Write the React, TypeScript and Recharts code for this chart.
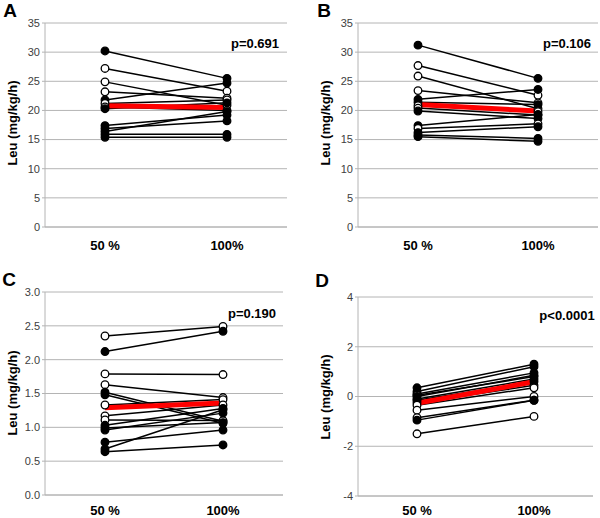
import React from 'react';
import { LineChart, Line, XAxis, YAxis, CartesianGrid } from 'recharts';

const categories = ['50 %', '100%'];

// panel A
const aPre = [30.2, 27.2, 24.9, 23.2, 21.8, 21.2, 20.6, 20.3, 17.4, 16.9, 16.4, 15.9, 15.4];
const aPost = [25.5, 23.3, 20.9, 22.1, 24.7, 21.8, 20.0, 21.3, 19.2, 18.2, 19.8, 15.9, 15.4];
const aFilled = [true, false, false, false, true, false, false, true, true, true, true, true, true];
const aMean = [20.8, 20.5];

// panel B
const bPre = [31.2, 27.7, 25.9, 23.4, 21.9, 21.4, 20.8, 20.4, 19.9, 17.4, 16.9, 16.2, 15.8, 15.5];
const bPost = [25.5, 22.6, 20.3, 21.3, 23.6, 21.0, 19.8, 19.2, 18.6, 19.3, 17.7, 17.2, 15.2, 14.7];
const bFilled = [true, false, false, false, true, true, false, false, true, true, false, true, true, true];
const bMean = [21.0, 19.9];

// panel C
const cPre = [2.35, 2.12, 1.79, 1.63, 1.52, 1.48, 1.33, 1.17, 1.11, 1.03, 0.99, 0.96, 0.78, 0.68, 0.64];
const cPost = [2.49, 2.42, 1.78, 1.44, 1.09, 1.06, 1.41, 1.33, 1.1, 1.28, 1.07, 1.21, 0.96, 1.26, 0.74];
const cFilled = [false, true, false, false, true, true, false, false, false, true, true, true, true, true, true];
const cMean = [1.29, 1.36];

// panel D
const dPre = [0.35, 0.2, 0.1, 0.05, 0.0, -0.1, -0.15, -0.25, -0.35, -0.55, -0.85, -0.95, -1.5];
const dPost = [1.3, 1.2, 0.95, 0.8, 0.85, 0.7, 0.6, 0.45, 0.35, 0.0, -0.15, -0.15, -0.8];
const dFilled = [true, true, true, false, true, true, true, true, false, false, false, true, false];
const dMean = [-0.27, 0.59];

const aTicks = [0, 5, 10, 15, 20, 25, 30, 35];
const cTicks = [0, 0.5, 1.0, 1.5, 2.0, 2.5, 3.0];
const dTicks = [-4, -2, 0, 2, 4];

const FONT = '"Liberation Sans", Arial, sans-serif';
const GRID = '#b4b4b4';

function buildRows(pre: number[], post: number[], mean: number[]) {
  return categories.map((cat, i) => {
    const row: any = { cat, mean: mean[i] };
    pre.forEach((v, k) => {
      row['s' + k] = i === 0 ? v : post[k];
    });
    return row;
  });
}

interface PanelProps {
  left: number;
  top: number;
  width: number;
  height: number;
  margin: { top: number; right: number; left: number; bottom: number };
  yWidth: number;
  xHeight: number;
  xGap: number;
  pad: number;
  domain: [number, number];
  ticks: number[];
  fmt?: (v: number) => string;
  pre: number[];
  post: number[];
  filled: boolean[];
  mean: number[];
}

function Panel(p: PanelProps) {
  const rows = buildRows(p.pre, p.post, p.mean);
  return (
    <div style={{ position: 'absolute', left: p.left, top: p.top }}>
      <LineChart width={p.width} height={p.height} data={rows} margin={p.margin}>
        <CartesianGrid vertical={false} stroke={GRID} />
        <XAxis
          dataKey="cat"
          height={p.xHeight}
          padding={{ left: p.pad, right: p.pad }}
          axisLine={{ stroke: GRID }}
          tickLine={false}
          tickMargin={p.xGap}
          tick={{ fill: '#000', fontSize: 13, fontWeight: 'bold', fontFamily: FONT }}
        />
        <YAxis
          type="number"
          width={p.yWidth}
          domain={p.domain}
          ticks={p.ticks}
          interval={0}
          tickFormatter={p.fmt}
          axisLine={{ stroke: GRID }}
          tickLine={{ stroke: GRID }}
          tickSize={3}
          tickMargin={2}
          tick={{ fill: '#404040', fontSize: 11, fontFamily: FONT }}
        />
        {p.pre.map((_, k) => (
          <Line
            key={k}
            dataKey={'s' + k}
            stroke="#000"
            strokeWidth={1.5}
            dot={{ r: 3.8, fill: p.filled[k] ? '#000' : '#fff', stroke: '#000', strokeWidth: 1.3 }}
            isAnimationActive={false}
          />
        ))}
        <Line dataKey="mean" stroke="#ff0000" strokeWidth={5} dot={false} isAnimationActive={false} />
      </LineChart>
    </div>
  );
}

function Txt({ x, y, size, children, rotate }: { x: number; y: number; size: number; children: any; rotate?: boolean }) {
  return (
    <div
      style={{
        position: 'absolute',
        fontFamily: FONT,
        fontWeight: 'bold',
        whiteSpace: 'nowrap',
        color: '#000',
        left: x,
        top: y,
        fontSize: size,
        lineHeight: 1,
        transform: rotate ? 'translate(-50%, -50%) rotate(-90deg)' : 'translate(-50%, -50%)',
      }}
    >
      {children}
    </div>
  );
}

export default function App() {
  return (
    <div style={{ position: 'absolute', left: 0, top: 0, width: 600, height: 518, background: '#fff', overflow: 'hidden' }}>
      <Panel
        left={0} top={0} width={300} height={260}
        margin={{ top: 23, right: 13, left: 0, bottom: 3 }}
        yWidth={45} xHeight={30} xGap={8} pad={60}
        domain={[0, 35]} ticks={aTicks}
        pre={aPre} post={aPost} filled={aFilled} mean={aMean}
      />
      <Panel
        left={300} top={0} width={300} height={260}
        margin={{ top: 23, right: 2, left: 0, bottom: 3 }}
        yWidth={58} xHeight={30} xGap={8} pad={60}
        domain={[0, 35]} ticks={aTicks}
        pre={bPre} post={bPost} filled={bFilled} mean={bMean}
      />
      <Panel
        left={0} top={260} width={300} height={258}
        margin={{ top: 32, right: 17, left: 0, bottom: 0 }}
        yWidth={45} xHeight={23} xGap={5} pad={60}
        domain={[0, 3]} ticks={cTicks} fmt={(v: number) => v.toFixed(1)}
        pre={cPre} post={cPost} filled={cFilled} mean={cMean}
      />
      <Panel
        left={300} top={260} width={300} height={258}
        margin={{ top: 37, right: 7, left: 0, bottom: 0 }}
        yWidth={58} xHeight={22} xGap={4} pad={59}
        domain={[-4, 4]} ticks={dTicks}
        pre={dPre} post={dPost} filled={dFilled} mean={dMean}
      />

      <Txt x={10} y={10} size={19}>A</Txt>
      <Txt x={324} y={10} size={19}>B</Txt>
      <Txt x={9} y={279} size={19}>C</Txt>
      <Txt x={322} y={280} size={19}>D</Txt>

      <Txt x={12} y={123} size={13} rotate>Leu (mg/kg/h)</Txt>
      <Txt x={325} y={123} size={13} rotate>Leu (mg/kg/h)</Txt>
      <Txt x={12} y={393} size={13} rotate>Leu (mg/kg/h)</Txt>
      <Txt x={325} y={397} size={13} rotate>Leu (mg/kg/h)</Txt>

      <Txt x={255} y={43} size={13}>p=0.691</Txt>
      <Txt x={567} y={43} size={13}>p=0.106</Txt>
      <Txt x={252} y={313} size={13}>p=0.190</Txt>
      <Txt x={567} y={315} size={13}>p&lt;0.0001</Txt>
    </div>
  );
}
